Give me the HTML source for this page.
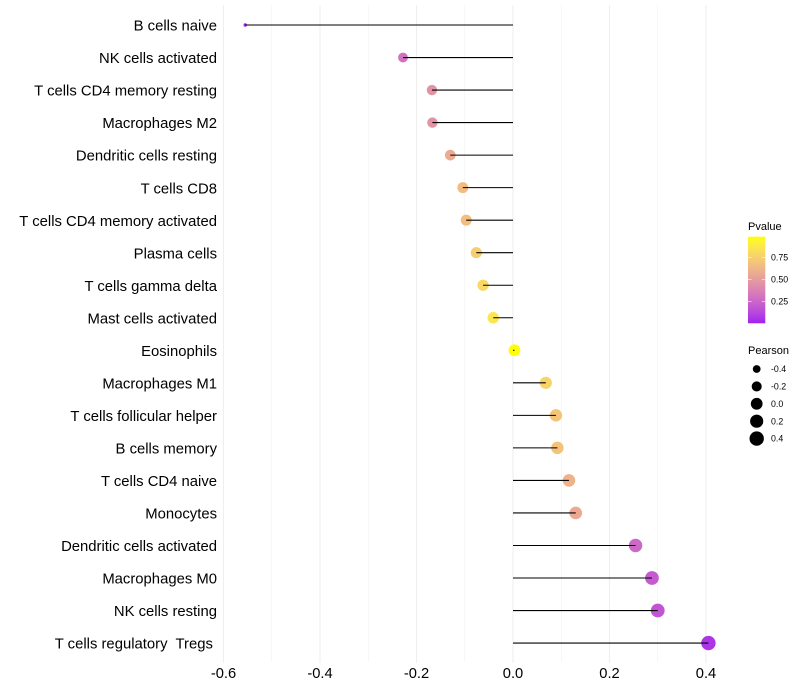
<!DOCTYPE html>
<html>
<head>
<meta charset="utf-8">
<title>Immune cell correlation lollipop chart</title>
<style>
html,body{margin:0;padding:0;background:#fff;}
svg{display:block;font-family:"Liberation Sans",sans-serif;}
</style>
</head>
<body>
<svg id="chart" width="800" height="700" viewBox="0 0 800 700" xmlns="http://www.w3.org/2000/svg">
<g id="grid"></g>
<g id="points"></g>
<g id="stems"></g>
<g id="ylabels"></g>
<g id="xlabels"></g>
<g id="legend-p">
<text x="748" y="230" font-size="11" fill="#000">Pvalue</text>
</g>
<g id="legend-s">
<text x="748" y="354" font-size="11" fill="#000">Pearson</text>
</g>
</svg>
<script>
const categories = ["B cells naive","NK cells activated","T cells CD4 memory resting","Macrophages M2","Dendritic cells resting","T cells CD8","T cells CD4 memory activated","Plasma cells","T cells gamma delta","Mast cells activated","Eosinophils","Macrophages M1","T cells follicular helper","B cells memory","T cells CD4 naive","Monocytes","Dendritic cells activated","Macrophages M0","NK cells resting","T cells regulatory  Tregs "];
const pearson = [-0.555,-0.228,-0.168,-0.167,-0.130,-0.104,-0.097,-0.076,-0.062,-0.041,0.003,0.068,0.089,0.092,0.116,0.130,0.254,0.288,0.300,0.405];
const pvalue = [0.01,0.30,0.46,0.46,0.57,0.65,0.67,0.74,0.79,0.86,0.98,0.77,0.70,0.69,0.61,0.56,0.26,0.20,0.18,0.06];
const xMajorTicks = [-0.6,-0.4,-0.2,0.0,0.2,0.4];
const xMinorTicks = [-0.5,-0.3,-0.1,0.1,0.3];
const colorTicks = [0.25,0.50,0.75];
const sizeTicks = [-0.4,-0.2,0.0,0.2,0.4];

const SVGNS = "http://www.w3.org/2000/svg";
function xScale(v){ return 513 + v * 482.5; }
function yScale(i){ return 25 + i * 32.53; }
function rScale(v){ return 1.7 + 5.5 * Math.sqrt(Math.max(0, (v + 0.555) / 0.96)); }
function colorYScale(p){ return 323.3 - p * 88; }

function rgb2lab(c){
  const l = c.map(v => { v/=255; return v>0.04045?Math.pow((v+0.055)/1.055,2.4):v/12.92; });
  const X=(0.4124*l[0]+0.3576*l[1]+0.1805*l[2])/0.95047;
  const Y=0.2126*l[0]+0.7152*l[1]+0.0722*l[2];
  const Z=(0.0193*l[0]+0.1192*l[1]+0.9505*l[2])/1.08883;
  const f=t=>t>0.008856?Math.cbrt(t):7.787*t+16/116;
  return [116*f(Y)-16,500*(f(X)-f(Y)),200*(f(Y)-f(Z))];
}
function lab2rgb(L){
  const fy=(L[0]+16)/116, fx=fy+L[1]/500, fz=fy-L[2]/200;
  const g=t=>t*t*t>0.008856?t*t*t:(t-16/116)/7.787;
  const X=g(fx)*0.95047,Y=g(fy),Z=g(fz)*1.08883;
  const r=[3.2406*X-1.5372*Y-0.4986*Z,-0.9689*X+1.8758*Y+0.0415*Z,0.0557*X-0.2040*Y+1.0570*Z];
  return r.map(v=>{ v=Math.max(0,Math.min(1,v)); v=v>0.0031308?1.055*Math.pow(v,1/2.4)-0.055:12.92*v; return Math.round(v*255); });
}
const LOW_LAB = rgb2lab([160,32,240]);
const HIGH_LAB = rgb2lab([255,255,0]);
function colorScale(p){
  const t = Math.max(0, Math.min(1, p / 0.984));
  const c = lab2rgb(LOW_LAB.map((v,i)=>v+(HIGH_LAB[i]-v)*t));
  return "rgb("+c.join(",")+")";
}
function make(tag, attrs, parent){
  const el = document.createElementNS(SVGNS, tag);
  for (const k in attrs) el.setAttribute(k, attrs[k]);
  parent.appendChild(el);
  return el;
}

const gridG = document.getElementById("grid");
const pointsG = document.getElementById("points");
const stemsG = document.getElementById("stems");
const ylabG = document.getElementById("ylabels");
const xlabG = document.getElementById("xlabels");
const legP = document.getElementById("legend-p");
const legS = document.getElementById("legend-s");

xMinorTicks.forEach(v => {
  const l = make("line",{x1:xScale(v),x2:xScale(v),y1:5,y2:662,stroke:"#efefef","stroke-width":0.55},gridG);
  
  
});
xMajorTicks.forEach(v => {
  const l = make("line",{x1:xScale(v),x2:xScale(v),y1:5,y2:663,stroke:"#efefef","stroke-width":1.07},gridG);
  
  
  const t = make("text",{x:xScale(v),y:678,"text-anchor":"middle","font-size":14.7,fill:"#000"},xlabG);
  t.textContent = v.toFixed(1);
  
  
});

categories.forEach((name,i) => {
  const y = yScale(i);
  const dot = make("circle",{cx:xScale(pearson[i]),cy:y,r:rScale(pearson[i]),fill:colorScale(pvalue[i])},pointsG);
  
  
  const stem = make("line",{x1:xScale(0),x2:xScale(pearson[i]),y1:y,y2:y,stroke:"#000","stroke-width":1.07},stemsG);
  
  
  const t = make("text",{x:217,y:y+5.6,"text-anchor":"end","font-size":14.85,fill:"#000"},ylabG);
  t.style.whiteSpace = "pre";
  t.textContent = name;
  
  
});

const defs = make("defs",{},legP);
const grad = make("linearGradient",{id:"pgrad",x1:0,y1:1,x2:0,y2:0},defs);
for (let s=0;s<=20;s++){
  make("stop",{offset:s/20,"stop-color":colorScale(s/20*0.984)},grad);
}
const bar = make("rect",{x:748,y:236.7,width:17.3,height:86.6,fill:"url(#pgrad)"},legP);


colorTicks.forEach(p => {
  const y = colorYScale(p);
  const a = make("line",{x1:748,x2:751.5,y1:y,y2:y,stroke:"#fff","stroke-width":0.6},legP);
  
  
  const b = make("line",{x1:761.8,x2:765.3,y1:y,y2:y,stroke:"#fff","stroke-width":0.6},legP);
  
  
  const t = make("text",{x:771,y:y+3.1,"font-size":8.8,fill:"#000"},legP);
  t.textContent = p.toFixed(2);
  
  
});
sizeTicks.forEach((v,i) => {
  const y = 369 + i * 17.4;
  const c = make("circle",{cx:756.7,cy:y,r:rScale(v),fill:"#000"},legS);
  
  
  const t = make("text",{x:771,y:y+3.1,"font-size":8.8,fill:"#000"},legS);
  t.textContent = v.toFixed(1);
  
  
});
</script>
</body>
</html>
